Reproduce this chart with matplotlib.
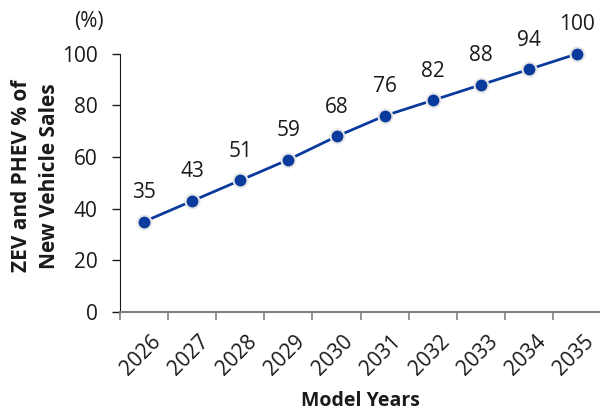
import matplotlib
matplotlib.use("Agg")
import matplotlib.pyplot as plt
from matplotlib.transforms import ScaledTranslation

years = ["2026", "2027", "2028", "2029", "2030", "2031", "2032", "2033", "2034", "2035"]
shares = [35, 43, 51, 59, 68, 76, 82, 88, 94, 100]
y_ticks = [0, 20, 40, 60, 80, 100]

plt.rcParams["font.family"] = ["Open Sans", "DejaVu Sans"]
ink = "#1a1a1a"

fig = plt.figure(figsize=(6.0, 4.11), dpi=100)
ax = fig.add_axes([0.2, 0.241, 0.802, 0.628])

xs = [i + 0.5 for i in range(len(years))]
ax.plot(xs, shares, color="#0a3a9c", lw=2, marker="o", ms=10,
        markerfacecolor="#0a3a9c", markeredgecolor="#e6e6e6", markeredgewidth=1.5,
        clip_on=False, zorder=3)

for x, v in zip(xs, shares):
    ax.annotate(str(v), (x, v), xytext=(0, 29), textcoords="offset pixels",
                ha="center", va="center", fontsize=15, color=ink)

ax.set_xlim(0, len(years))
ax.set_ylim(0, 100)
ax.set_yticks(y_ticks)
ax.tick_params(axis="y", labelsize=15, length=6, width=1, color=ink, labelcolor=ink, pad=10)

ax.set_xticks(range(len(years) + 1))
ax.set_xticklabels([])
ax.set_xticks(xs, minor=True)
ax.set_xticklabels(years, minor=True, rotation=45, ha="right", va="top",
                   rotation_mode="anchor", fontsize=15, color=ink)
ax.tick_params(axis="x", which="major", length=6, width=1.2, color="#808080")
ax.tick_params(axis="x", which="minor", length=0, pad=14)
for lbl in ax.get_xticklabels(minor=True):
    lbl.set_transform(lbl.get_transform() + ScaledTranslation(0.06, 0, fig.dpi_scale_trans))

for s in ("top", "right"):
    ax.spines[s].set_visible(False)
ax.spines["left"].set_color(ink)
ax.spines["bottom"].set_color("#808080")
ax.spines["bottom"].set_linewidth(1.5)

ax.set_ylabel("ZEV and PHEV % of\nNew Vehicle Sales", fontsize=15, fontweight="bold",
              color=ink, linespacing=1.45)
ax.yaxis.set_label_coords(-0.125, 0.527)
ax.set_xlabel("Model Years", fontsize=14, fontweight="bold", color=ink, labelpad=8)

fig.text(0.148, 0.947, "(%)", fontsize=15, color=ink, ha="center", va="center")

fig.savefig("out.png", dpi=100)
